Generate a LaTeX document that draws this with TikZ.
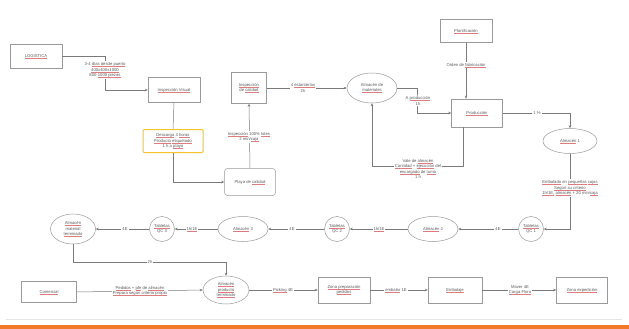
\documentclass[tikz,border=0pt]{standalone}
\usepackage{fontspec}
\setmainfont{Liberation Sans}
\usetikzlibrary{shapes.geometric,arrows.meta}
\definecolor{tg}{HTML}{5A5A5A}
\definecolor{lc}{HTML}{7A7A7A}
\definecolor{bc}{HTML}{9A9A9A}
\definecolor{ulc}{HTML}{DC7C7C}
\definecolor{org}{HTML}{F07828}
\definecolor{yel}{HTML}{F5C32C}
\newcommand\sq[1]{\setbox0\hbox{#1}\rlap{\color{ulc}\rule[-0.9pt]{\wd0}{0.3pt}}\box0\relax}
\begin{document}
\begin{tikzpicture}[x=1pt,y=-1pt,
 every node/.style={font=\fontsize{4.2}{5.6}\selectfont, text=tg, align=center, inner sep=0.5pt},
 box/.style={draw=bc, fill=white, line width=0.5pt, minimum width=52pt, minimum height=25pt},
 ell/.style={ellipse, draw=bc, fill=white, line width=0.5pt, inner sep=0},
 circ/.style={circle, draw=bc, fill=white, line width=0.5pt, minimum size=25pt, inner sep=0},
 conn/.style={draw=lc, line width=0.5pt},
 arr/.style={conn, -{Stealth[length=3pt,width=2.6pt]}},
 lbl/.style={fill=white, inner sep=1pt}]
\useasboundingbox (0,0) rectangle (629,329);
\fill[white] (0,0) rectangle (629,329);
% nodes
\node[box, minimum height=24pt] (log) at (36,56) {\sq{LOGISTICA}};
\node[box] (insv) at (174,90) {\sq{Inspección Visual}};
\node[box, minimum width=35pt, minimum height=31pt] (insc) at (249,88) {\sq{Inspección}\\ de \sq{calidad}};
\node[box, rounded corners=3pt, minimum width=51pt, minimum height=27pt] (playa) at (250,182) {Playa de \sq{calidad}};
\node[draw=yel, line width=1pt, rounded corners=1pt, fill=white, minimum width=60pt, minimum height=23pt] (yb) at (173,141) {\sq{Descarga} 3 \sq{horas}\\ \sq{Producto} \sq{etiquetado}\\ 1 h a \sq{playa}};
\node[box, minimum height=23pt] (plan) at (466,31) {\sq{Planificación}};
\node[box, minimum width=51pt, minimum height=28pt] (prod) at (477,113) {\sq{Producción}};
\node[box, minimum width=55pt, minimum height=21pt] (com) at (49,292) {\sq{Comercial}};
\node[box, minimum height=26pt] (zpp) at (344,290) {\sq{Zona preparación}\\ \sq{pedidos}};
\node[box, minimum width=54pt, minimum height=26pt] (emb) at (455,290) {\sq{Embalaje}};
\node[box, minimum width=51pt, minimum height=26pt] (zexp) at (582,290) {\sq{Zona expedición}};
\node[ell, minimum width=50pt, minimum height=30pt] (alm) at (372,88) {Almacén de\\ \sq{materiales}};
\node[ell, minimum width=54pt, minimum height=25pt] (a1) at (570,141) {\sq{Almacén} 1};
\node[ell, minimum width=50pt, minimum height=25pt] (a2) at (433,229) {\sq{Almacén} 2};
\node[ell, minimum width=50pt, minimum height=25pt] (a3) at (243,229) {\sq{Almacén} 3};
\node[ell, minimum width=45pt, minimum height=30pt] (amt) at (73,229) {\sq{Almacén}\\ material\\ \sq{terminado}};
\node[ell, minimum width=46pt, minimum height=28pt] (apt) at (226,290) {\sq{Almacén}\\ \sq{producto}\\ \sq{terminado}};
\node[circ] (q1) at (531,229) {\sq{Tabletas}\\ QC 1};
\node[circ] (q2) at (337,229) {\sq{Tabletas}\\ QC 2};
\node[circ] (q3) at (162,229) {\sq{Tabletas}\\ QC 3};
% coordinates
\coordinate (k1) at (105,90);
\coordinate (k2) at (417,100);
\coordinate (k3) at (372,166);
\coordinate (k4) at (226,262);
% connectors
\draw[arr] (log.east) -| (k1) -- (insv.west);
\draw[conn] (insv.south) -- (yb.north);
\draw[arr] (yb.south) |- (playa.west);
\draw[arr] (playa.north) -- (insc.south);
\draw[arr] (insc.east) -- (alm.west);
\draw[arr] (alm.east) -| (k2) |- (prod.west);
\draw[arr] (plan.south) -- (plan.south |- prod.north);
\draw[arr] (prod.east) -| (a1.north);
\draw[arr] ([xshift=-14pt]prod.south) |- (k3) -- (alm.south);
\draw[arr] (a1.south) |- (q1.east);
\draw[arr] (q1.west) -- (a2.east);
\draw[arr] (a2.west) -- (q2.east);
\draw[arr] (q2.west) -- (a3.east);
\draw[arr] (a3.west) -- (q3.east);
\draw[arr] (q3.west) -- (amt.east);
\draw[arr] (amt.south) |- (k4) -- (apt.north);
\draw[arr] (com.east) -- (apt.west);
\draw[arr] (apt.east) -- (zpp.west);
\draw[arr] (zpp.east) -- (emb.west);
\draw[arr] (emb.east) -- (zexp.west);
% labels
\node[lbl] (l1) at (105,70) {3-4 \sq{días desde puerto}\\ \sq{400x400x1000}\\ 800-\sq{1000 piezas}};
\node[lbl] (l2) at (249,137) {\sq{Inspección} 100\% \sq{lotes}\\ 2 min/\sq{caja}};
\node[lbl] (l3) at (303,88) {4 \sq{estanterías}\\ 2h};
\node[lbl] (l4) at (418,101) {A \sq{producción}\\ 1h};
\node[lbl] (l5) at (466,65) {Orden de \sq{fabricación}};
\node[lbl] (l6) at (537,113) {1 \%};
\node[lbl] (l7) at (418,169) {Vale de \sq{almacén}\\ \sq{Cantidad} + \sq{ejecución} del\\ \sq{encargado} de \sq{turno}\\ 1 h};
\node[lbl] (l8) at (570,188) {\sq{Embalado} en \sq{pequeñas} \sq{cajas}\\ \sq{Según su criterio}\\ \sq{1h/1E,} \sq{almacén} + 20 min/\sq{caja}};
\node[lbl] (l9) at (498,229) {4E};
\node[lbl] (l10) at (379,229) {\sq{1h/1E}};
\node[lbl] (l11) at (292,229) {4E};
\node[lbl] (l12) at (192,229) {\sq{1h/1E}};
\node[lbl] (l13) at (125,229) {4E};
\node[lbl] (l14) at (150,262) {2h};
\node[lbl] (l15) at (140,291) {\sq{Pedidos} + \sq{pfe} de \sq{almacén}\\ \sq{Prepara según criterio propio}};
\node[lbl] (l16) at (283,290) {\sq{Picking} 4E};
\node[lbl] (l17) at (396,290) {\sq{embalar} 1E};
\node[lbl] (l18) at (520,290) {Mover 4E\\ \sq{Carga Flora}};
% bottom band
\draw[line width=1.2pt, draw=black!10] (6,319.5) -- (622,319.5);
\fill[org] (0,325) rectangle (629,329);
\end{tikzpicture}
\end{document}
